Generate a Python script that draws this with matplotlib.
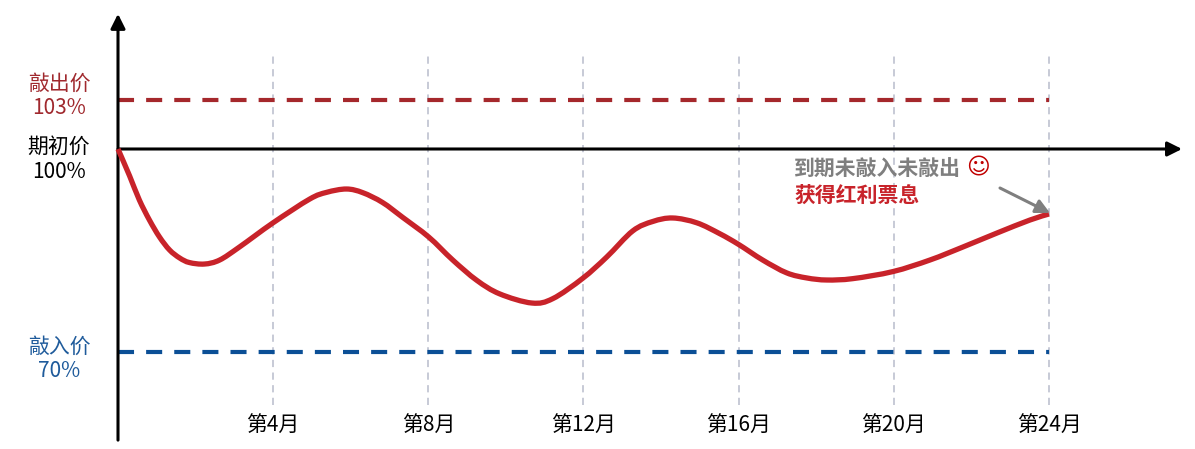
import numpy as np
import matplotlib
matplotlib.use("Agg")
import matplotlib.pyplot as plt
from matplotlib.path import Path
from matplotlib.patches import PathPatch

plt.rcParams['font.family'] = ['Noto Sans CJK SC', 'DejaVu Sans']

# data
month_ticks = [4, 8, 12, 16, 20, 24]
month_labels = ["第4月", "第8月", "第12月", "第16月", "第20月", "第24月"]

knock_out = 103
start_price = 100
knock_in = 70

curve_month = [0.0, 0.30, 0.55, 0.81, 1.07, 1.33, 1.59, 1.84, 2.23, 2.62, 3.13, 3.99, 4.94, 5.38,
               5.89, 6.31, 6.82, 7.34, 8.01, 8.63, 9.25, 9.84, 10.67, 11.21, 11.98, 12.60, 13.27,
               13.79, 14.30, 14.92, 15.51, 16.0, 16.62, 17.24, 17.76, 18.27, 18.94, 19.98, 20.93,
               21.78, 22.66, 23.51, 24.0]
curve_price = [100.0, 96.01, 92.47, 89.51, 87.0, 85.08, 83.9, 83.23, 83.01, 83.6, 85.52, 89.07,
               92.6, 93.6, 94.09, 93.55, 92.1, 89.9, 87.0, 83.6, 80.6, 78.6, 77.25, 77.9, 80.9,
               84.05, 87.9, 89.3, 89.81, 89.1, 87.5, 85.9, 83.6, 81.7, 80.95, 80.65, 80.85, 81.9,
               83.6, 85.52, 87.59, 89.51, 90.40]

W, H = 1195, 449


# the picture is schematic: the part above 100% is stretched
def forward(v):
    v = np.asarray(v, dtype=float)
    return np.where(v <= 100, v, 100 + (v - 100) * 2.413)


def inverse(v):
    v = np.asarray(v, dtype=float)
    return np.where(v <= 100, v, 100 + (v - 100) / 2.413)


def px(x, y):
    return x / W, 1 - y / H


# smooth line through the read points, same idea as a drawn curve in a slide
def smooth_path(xs, ys):
    pts = np.column_stack([xs, ys])
    verts = [pts[0]]
    codes = [Path.MOVETO]
    for i in range(len(pts) - 1):
        before = pts[max(i - 1, 0)]
        after = pts[min(i + 2, len(pts) - 1)]
        verts += [pts[i] + (pts[i + 1] - before) / 6, pts[i + 1] - (after - pts[i]) / 6, pts[i + 1]]
        codes += [Path.CURVE4, Path.CURVE4, Path.CURVE4]
    return Path(verts, codes)


fig = plt.figure(figsize=(W / 100, H / 100), dpi=100)
ax = fig.add_axes([0, 0, 1, 1])
ax.set_yscale('function', functions=(forward, inverse))
ax.set_xlim(-118 / 38.79, (W - 118) / 38.79)
ax.set_ylim(55.69, 109.12)
ax.axis('off')

# vertical month guides
ax.vlines(month_ticks, 62.19, 105.94, color="#c3c6d3", linewidth=1.3,
          linestyles=(0, (4, 3)), zorder=1)

# knock-out and knock-in levels
ax.plot([0, 24], [knock_out, knock_out], color="#a5282c", linewidth=3.0,
        dashes=(3.85, 2.9), dash_capstyle="butt", zorder=2)
ax.plot([0, 24], [knock_in, knock_in], color="#0b4f96", linewidth=3.0,
        dashes=(3.85, 2.9), dash_capstyle="butt", zorder=2)

# axes with arrow heads
arrow = dict(arrowstyle="-|>,head_length=0.62,head_width=0.31", color="black", linewidth=2.2,
             shrinkA=0, shrinkB=0, mutation_scale=14)
ax.annotate("", xy=(0, 108.27), xytext=(0, 57.0), arrowprops=arrow, zorder=3)
ax.annotate("", xy=(27.43, start_price), xytext=(0, start_price), arrowprops=arrow, zorder=3)

# price path
ax.add_patch(PathPatch(smooth_path(curve_month, curve_price), facecolor="none",
                       edgecolor="#c8232a", linewidth=3.8, capstyle="butt", zorder=4))

# pointer to the end of the path
ax.annotate("", xy=px(1050, 213), xytext=px(1000, 188), xycoords="axes fraction",
            textcoords="axes fraction",
            arrowprops=dict(arrowstyle="-|>,head_length=0.6,head_width=0.3", color="#7f7f7f",
                            linewidth=2.2, shrinkA=0, shrinkB=0, mutation_scale=14), zorder=5)

# left labels
side_labels = [("敲出价", 84, "#a0292e"), ("103%", 108, "#a0292e"),
               ("期初价", 147, "black"), ("100%", 172, "black"),
               ("敲入价", 347, "#1f5b9b"), ("70%", 371, "#1f5b9b")]
for txt, y, col in side_labels:
    xf, yf = px(59, y)
    ax.text(xf, yf, txt, color=col, fontsize=15, ha="center", va="center", transform=ax.transAxes)

# month labels
for m, lab in zip(month_ticks, month_labels):
    ax.text(m, px(0, 426)[1], lab, fontsize=15, ha="center", va="center", color="black",
            transform=ax.get_xaxis_transform())

# annotation
xf, yf = px(794, 169)
ax.text(xf, yf, "到期未敲入未敲出", color="#7f7f7f", fontsize=15, fontweight="bold",
        ha="left", va="center", transform=ax.transAxes)
xf, yf = px(978, 168)
ax.text(xf, yf, "☺", color="#c00000", fontsize=16.5, fontweight="bold", ha="center", va="center",
        family="DejaVu Sans", transform=ax.transAxes)
xf, yf = px(794, 195)
ax.text(xf, yf, "获得红利票息", color="#c8232a", fontsize=15, fontweight="bold",
        ha="left", va="center", transform=ax.transAxes)

fig.savefig("out.png", dpi=100)
